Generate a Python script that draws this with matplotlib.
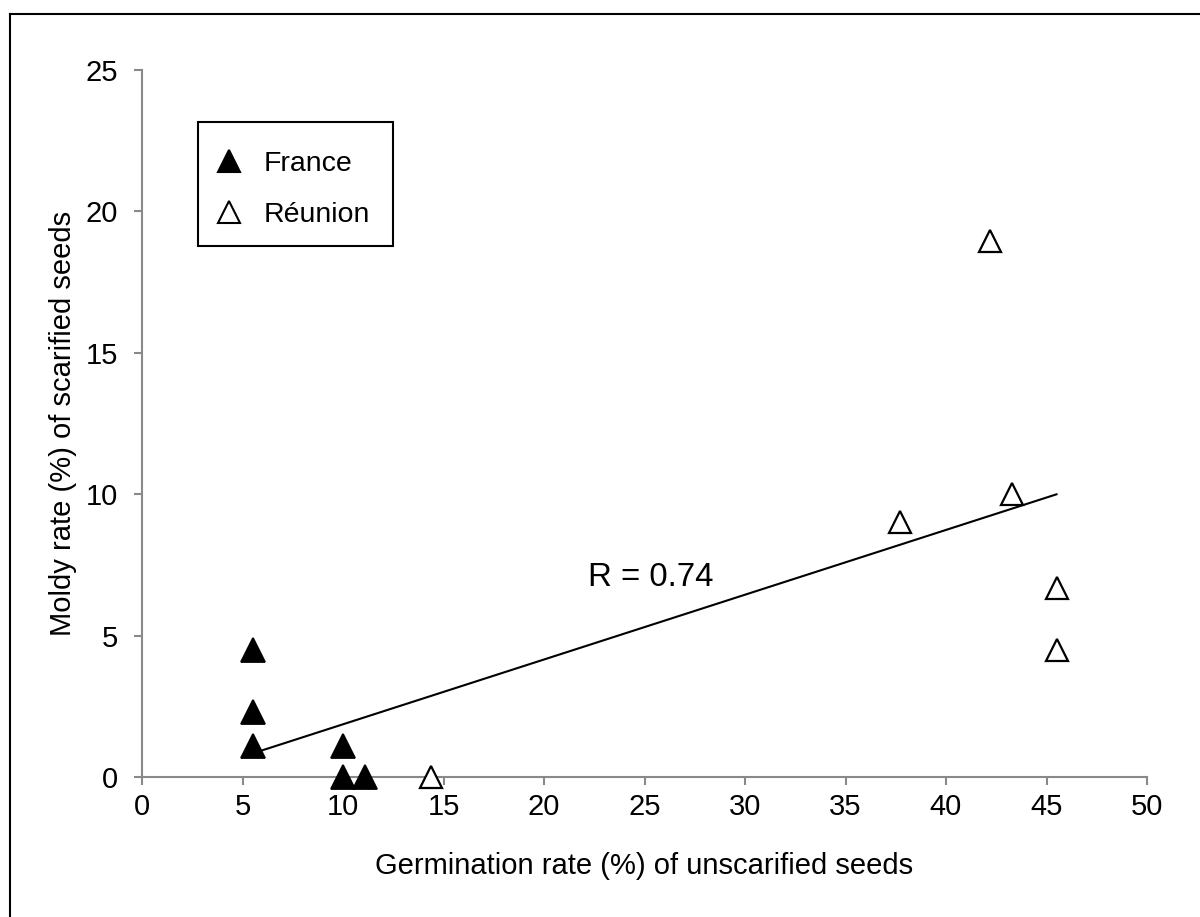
"""
Moldy rate of scarified seeds vs germination rate of unscarified seeds
"""

import matplotlib
matplotlib.use('Agg')
import matplotlib.pyplot as plt
from matplotlib.lines import Line2D
from matplotlib.patches import Rectangle
import numpy as np

plt.rcParams['font.family'] = ['Liberation Sans', 'DejaVu Sans']

# data
france_x = [5.5, 5.5, 5.5, 10.0, 10.0, 11.1]
france_y = [4.5, 2.3, 1.1, 1.1, 0.0, 0.0]
reunion_x = [14.4, 37.7, 42.2, 43.3, 45.5, 45.5]
reunion_y = [0.0, 9.0, 18.95, 10.0, 6.7, 4.5]
r_label = 'R = 0.74'

x_ticks = [0, 5, 10, 15, 20, 25, 30, 35, 40, 45, 50]
y_ticks = [0, 5, 10, 15, 20, 25]

AXIS_GRAY = '#898989'

fig = plt.figure(figsize=(12, 9.17), dpi=100)
ax = fig.add_axes([142 / 1200, 1 - 777 / 917, 1005 / 1200, 707 / 917])

# markers
ax.plot(france_x, france_y, linestyle='none', marker='^', markersize=17.5,
        markerfacecolor='black', markeredgecolor='black', markeredgewidth=1.3,
        label='France', zorder=3, clip_on=False)
ax.plot(reunion_x, reunion_y, linestyle='none', marker='^', markersize=15.5,
        markerfacecolor='white', markeredgecolor='black', markeredgewidth=1.6,
        label='Réunion', zorder=3, clip_on=False)

# linear trend over all points
all_x = np.array(france_x + reunion_x)
all_y = np.array(france_y + reunion_y)
slope, intercept = np.polyfit(all_x, all_y, 1)
xs = np.array([all_x.min(), all_x.max()])
ax.plot(xs, slope * xs + intercept, color='black', lw=1.5, zorder=2)

ax.text(22.2, 7.05, r_label, ha='left', va='center', fontsize=23.8, color='black')

ax.set_xlim(0, 50)
ax.set_ylim(0, 25)
ax.set_xticks(x_ticks)
ax.set_yticks(y_ticks)

for side in ['top', 'right']:
    ax.spines[side].set_visible(False)
for side in ['left', 'bottom']:
    ax.spines[side].set_color(AXIS_GRAY)
    ax.spines[side].set_linewidth(1.5)

ax.tick_params(axis='both', direction='out', length=5.5, width=1.5,
               color=AXIS_GRAY, labelsize=21, labelcolor='black')
ax.tick_params(axis='y', pad=12)
ax.tick_params(axis='x', pad=6)

ax.set_xlabel('Germination rate (%) of unscarified seeds', fontsize=21, labelpad=22)
ax.set_ylabel('Moldy rate (%) of scarified seeds', fontsize=21, labelpad=6)

# legend entries without frame; the box is drawn separately (wider right margin)
leg = ax.legend(loc='upper left', bbox_to_anchor=(0.0724, 0.8854),
                borderaxespad=0, borderpad=0, frameon=False, fontsize=20.5,
                handlelength=1.0, handletextpad=0.73, labelspacing=0.88)
for h in leg.legend_handles:
    h.set_markersize(15.5)
    h.set_markeredgewidth(1.5)
ax.add_patch(Rectangle((0.0557, 0.7511), 0.194, 0.1754, transform=ax.transAxes,
                       facecolor='none', edgecolor='black', lw=1.5, zorder=4))

# outer frame (left and top edges visible)
fig.add_artist(Line2D([10 / 1200, 10 / 1200], [0, 1 - 14 / 917],
                      transform=fig.transFigure, color='black', lw=1.5))
fig.add_artist(Line2D([10 / 1200, 1], [1 - 14 / 917, 1 - 14 / 917],
                      transform=fig.transFigure, color='black', lw=1.5))

fig.savefig('out.png', dpi=100, facecolor='white')
